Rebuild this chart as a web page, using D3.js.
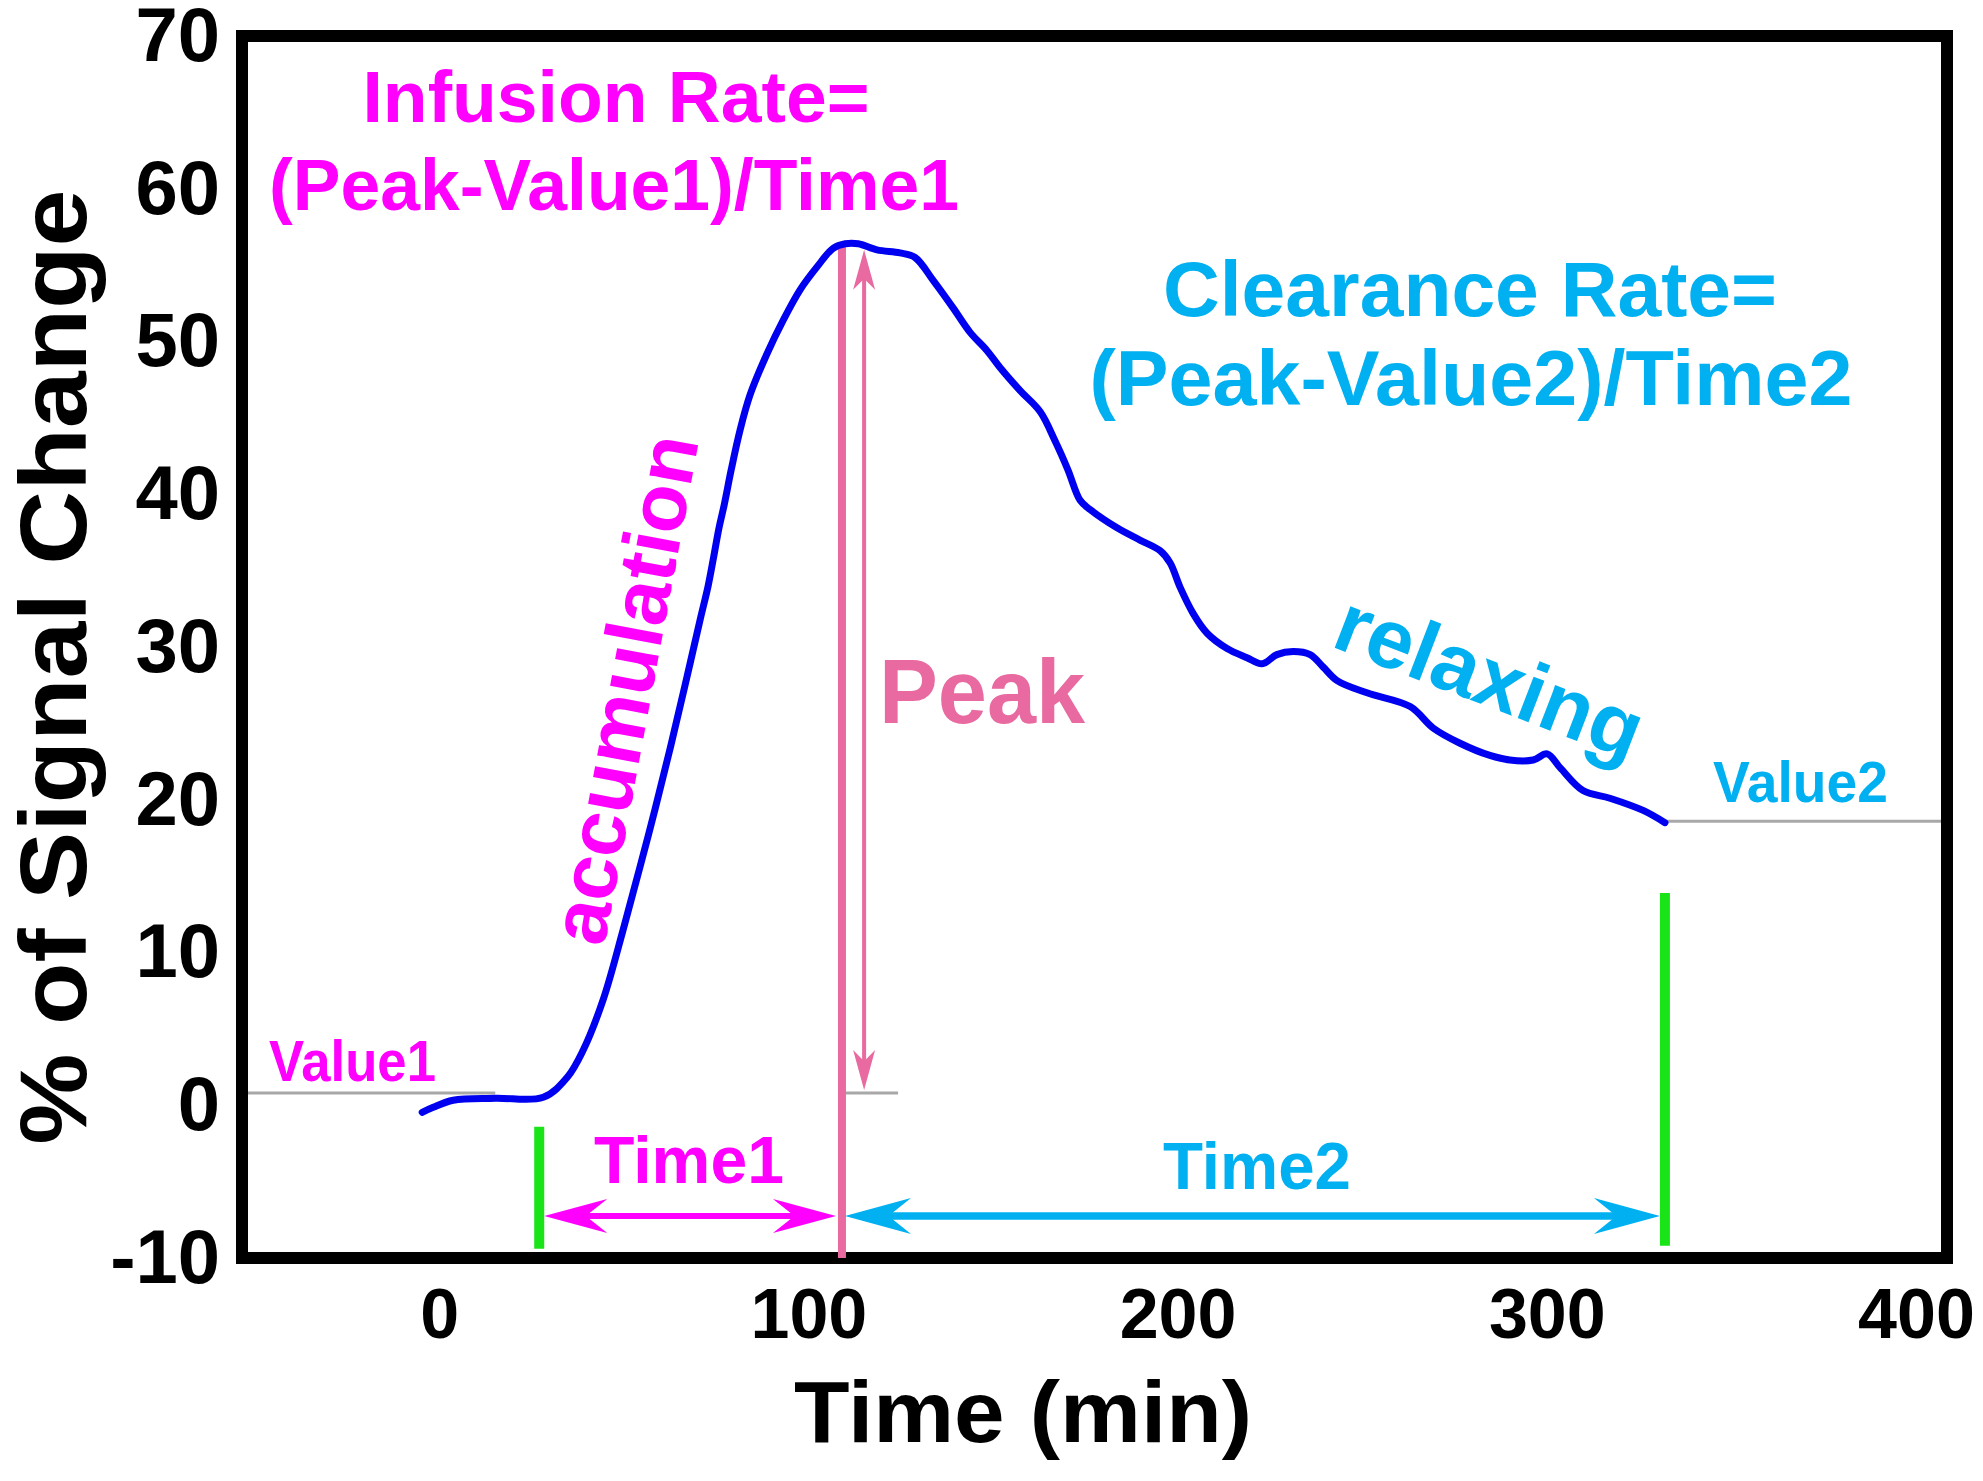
<!DOCTYPE html>
<html><head><meta charset="utf-8">
<script src="https://cdn.jsdelivr.net/npm/d3@7/dist/d3.min.js"></script>
<style>
html,body{margin:0;padding:0;background:#fff;}
svg{display:block;}
text{font-family:"Liberation Sans", Arial, Helvetica, sans-serif;font-weight:bold;}
</style></head><body>
<svg id="chart" width="1983" height="1481"></svg>
<script>
// ---- data ----
const timeMin = [-4.6,-1.6,3.8,15.2,28.2,34.7,39.0,44.4,49.8,54.4,58.5,62.6,66.6,70.7,72.85,74.2,75.8,77.2,79.1,81.5,84.2,88.8,93.2,97.8,102.4,106.7,110.0,113.5,118.6,124.8,128.9,133.8,139.2,143.8,148.4,151.9,157.3,162.8,166.8,170.3,173.6,176.3,183.6,189.8,195.3,198.0,200.7,204.2,208.0,213.4,218.8,222.9,226.9,231.3,235.9,239.4,243.2,251.3,263.0,269.2,276.5,284.6,290.0,296.3,300.1,303.6,309.8,317.1,326.1,332.0];
const signalPct = [-0.46,-0.13,0.33,0.46,0.52,1.83,3.6,6.9,11.46,15.6,19.4,23.4,27.5,31.8,34.0,35.7,37.8,39.3,41.6,44.2,46.5,49.2,51.4,53.4,54.9,56.1,56.4,56.4,56.0,55.8,55.5,54.0,52.2,50.6,49.4,48.3,46.8,45.4,43.5,41.6,39.6,39.0,37.8,37.0,36.3,35.5,33.9,32.2,30.9,29.9,29.3,28.9,29.5,29.7,29.5,28.7,27.8,27.0,26.1,24.7,23.7,22.9,22.6,22.6,23.0,22.1,20.6,20.1,19.3,18.5];
const xTickValues = [0,100,200,300,400];
const yTickValues = [-10,0,10,20,30,40,50,60,70];
const value1 = 0.8;
const value2 = 18.6;
const peakTime = 109.1;
const peakValue = 56.3;
const startTime = 27.1;
const endTime = 332.0;
const arrowTime = 115.1;
const value1LineEnd = 15.2;
const peakTickEnd = 124.3;
const timeArrowLevel = -7.25;
const greenLeftRange = [-1.4, -9.4];
const greenRightRange = [13.9, -9.2];

// ---- colours ----
const MAG = "#ff00ff", CYAN = "#00b0f0", PINK = "#e86aa0", BLUE = "#0000f0", GREEN = "#18e418", GRAY = "#a8a8a8";
const FONT = '"Liberation Sans", Arial, Helvetica, sans-serif';

const svg = d3.select("#chart");
const x = d3.scaleLinear().domain([-53.4, 408.4]).range([242, 1947]);
const y = d3.scaleLinear().domain([-10, 70]).range([1258, 36]);

// frame
svg.append("rect")
  .attr("x", x.range()[0]).attr("y", y.range()[1])
  .attr("width", x.range()[1]-x.range()[0]).attr("height", y.range()[0]-y.range()[1])
  .attr("fill","none").attr("stroke","#000").attr("stroke-width",12);

// axes (labels only)
const yAxis = svg.append("g").attr("transform",`translate(${x.range()[0]},0)`)
  .call(d3.axisLeft(y).tickValues(yTickValues).tickSize(0).tickPadding(22).tickFormat(d => String(d)));
yAxis.select(".domain").remove();
yAxis.selectAll("text").style("font-size","76px").style("font-family",FONT).style("font-weight","bold").attr("fill","#000");

const xAxis = svg.append("g").attr("transform",`translate(0,${y.range()[0]})`)
  .call(d3.axisBottom(x).tickValues(xTickValues).tickSize(0).tickPadding(30).tickFormat(d => String(d)));
xAxis.select(".domain").remove();
xAxis.selectAll("text").style("font-size","70px").style("font-family",FONT).style("font-weight","bold").attr("fill","#000");

// gray reference lines
svg.append("line").attr("x1", x.range()[0]+6).attr("x2", x(value1LineEnd))
  .attr("y1", y(value1)).attr("y2", y(value1)).attr("stroke",GRAY).attr("stroke-width",3);
svg.append("line").attr("x1", x(peakTime)).attr("x2", x(peakTickEnd))
  .attr("y1", y(value1)).attr("y2", y(value1)).attr("stroke",GRAY).attr("stroke-width",3);
svg.append("line").attr("x1", x(endTime)).attr("x2", x.range()[1]-6)
  .attr("y1", y(value2)).attr("y2", y(value2)).attr("stroke",GRAY).attr("stroke-width",3);

// green markers
svg.append("line").attr("x1", x(startTime)).attr("x2", x(startTime))
  .attr("y1", y(greenLeftRange[0])).attr("y2", y(greenLeftRange[1])).attr("stroke",GREEN).attr("stroke-width",10);
svg.append("line").attr("x1", x(endTime)).attr("x2", x(endTime))
  .attr("y1", y(greenRightRange[0])).attr("y2", y(greenRightRange[1])).attr("stroke",GREEN).attr("stroke-width",10);

// peak vertical line
svg.append("line").attr("x1", x(peakTime)).attr("x2", x(peakTime))
  .attr("y1", y(peakValue)).attr("y2", y.range()[0]).attr("stroke",PINK).attr("stroke-width",8);

function arrowHead(tx, ty, dx, dy, L, W, notch){
  const px=-dy, py=dx;
  const bx=tx-dx*L, by=ty-dy*L;
  const nx=tx-dx*L*notch, ny=ty-dy*L*notch;
  return `M${tx},${ty}L${bx+px*W/2},${by+py*W/2}L${nx},${ny}L${bx-px*W/2},${by-py*W/2}Z`;
}
function doubleArrow(x1,y1,x2,y2,color,sw,L,W,notch){
  const len=Math.hypot(x2-x1,y2-y1), dx=(x2-x1)/len, dy=(y2-y1)/len;
  svg.append("line").attr("x1",x1+dx*L*notch*0.8).attr("y1",y1+dy*L*notch*0.8)
    .attr("x2",x2-dx*L*notch*0.8).attr("y2",y2-dy*L*notch*0.8).attr("stroke",color).attr("stroke-width",sw);
  svg.append("path").attr("d",arrowHead(x2,y2,dx,dy,L,W,notch)).attr("fill",color);
  svg.append("path").attr("d",arrowHead(x1,y1,-dx,-dy,L,W,notch)).attr("fill",color);
}

// thin peak arrow
doubleArrow(x(arrowTime), y(value1)-3, x(arrowTime), y(peakValue-0.3), PINK, 4, 40, 22, 0.72);

// blue curve
const line = d3.line().x((d,i)=>x(timeMin[i])).y((d,i)=>y(signalPct[i])).curve(d3.curveCatmullRom.alpha(0.5));
svg.append("path").datum(signalPct).attr("d",line).attr("fill","none")
  .attr("stroke",BLUE).attr("stroke-width",7).attr("stroke-linejoin","round").attr("stroke-linecap","round");

// time arrows
doubleArrow(x(startTime)+5, y(timeArrowLevel), x(peakTime)-6, y(timeArrowLevel), MAG, 6, 63, 34, 0.66);
doubleArrow(x(peakTime)+3, y(timeArrowLevel), x(endTime)-5, y(timeArrowLevel), CYAN, 7.5, 66, 36, 0.66);

// texts
function txt(s, px, py, size, color, opts={}){
  const t = svg.append("text").attr("x",px).attr("y",py).attr("fill",color)
    .style("font-size",size+"px").attr("text-anchor",opts.anchor||"middle").text(s);
  if(opts.len){ t.attr("textLength",opts.len).attr("lengthAdjust","spacingAndGlyphs"); }
  if(opts.transform){ t.attr("transform",opts.transform); }
  if(opts.dy){ t.attr("dy",opts.dy); }
  return t;
}
txt("Infusion Rate=", 616, 122, 73, MAG, {len:507});
txt("(Peak-Value1)/Time1", 614, 210, 72, MAG, {len:690});
txt("Clearance Rate=", 1470, 316, 78, CYAN, {len:614});
txt("(Peak-Value2)/Time2", 1471, 405, 78, CYAN, {len:763});
txt("Value1", 269, 1081, 58, MAG, {anchor:"start", len:167});
txt("Value2", 1713, 802, 58, CYAN, {anchor:"start", len:175});
txt("Peak", 879, 723, 90, PINK, {anchor:"start", len:206});
txt("Time1", 689, 1183, 66, MAG, {len:190});
txt("Time2", 1257, 1189, 66, CYAN, {len:188});
txt("accumulation", 0, 0, 80, MAG, {transform:"translate(624,689) rotate(-79.4)", dy:"0.35em", len:516});
txt("relaxing", 0, 0, 84, CYAN, {transform:"translate(1490,676) rotate(21)", dy:"0.35em", len:322});
txt("% of Signal Change", 0, 0, 94, "#000", {transform:"translate(86,667) rotate(-90)", len:955});
txt("Time (min)", 1023, 1442, 88, "#000", {len:458});
</script>
</body></html>
